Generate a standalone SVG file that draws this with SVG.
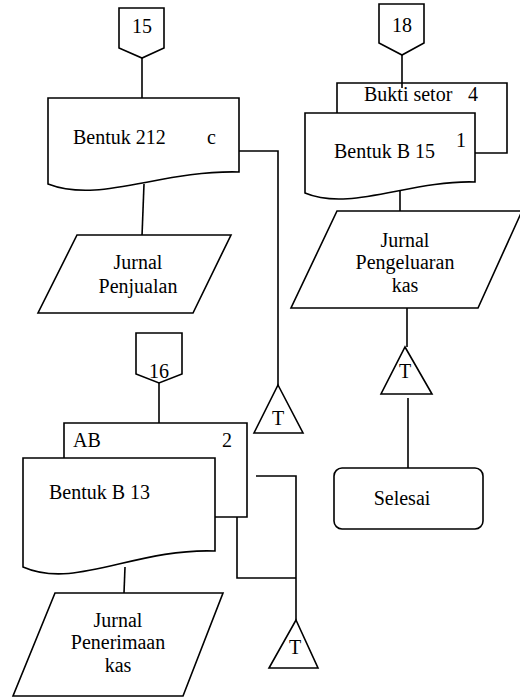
<svg xmlns="http://www.w3.org/2000/svg" width="520" height="698" viewBox="0 0 520 698">
<style>
.s{fill:#fff;stroke:#000;stroke-width:1.6;stroke-linejoin:miter}
.o{fill:none;stroke:#000;stroke-width:1.6}
text{font-family:"Liberation Serif","Times New Roman",serif;font-size:20px;fill:#000}
.m{text-anchor:middle}
</style>
<rect width="520" height="698" fill="#fff"/>
<g id="connectors" class="o">
<path d="M142,58 V98"/>
<path d="M239,151 H278 V385"/>
<path d="M144,184 L142,236"/>
<path d="M159,383 V423"/>
<path d="M237,517 V578 H296"/>
<path d="M256,476 H296 V620"/>
<path d="M125,567 L124,593"/>
<path d="M402,55 V88"/>
<path d="M400,188 V211"/>
<path d="M407,308 V347"/>
<path d="M408,398 V468"/>
</g>
<g id="off15"><path class="s" d="M119,8 H164 V48 L142,58 L119,48 Z"/><text class="m" x="142" y="33">15</text></g>
<g id="doc212"><path class="s" d="M48,98 H239 V172 C160,170 100,204 48,184 Z"/><text x="73" y="144">Bentuk 212</text><text x="207" y="144">c</text></g>
<g id="jpenjualan"><path class="s" d="M77,235 H231 L193,313 H38 Z"/><text class="m" x="138" y="269">Jurnal</text><text class="m" x="138" y="293">Penjualan</text></g>
<g id="t1"><path class="s" d="M278,385 L303,433 H254 Z"/><text class="m" x="278" y="425">T</text></g>
<g id="off16"><path class="s" d="M136,333 H182 V374 L159,383 L136,374 Z"/><text class="m" x="159" y="378">16</text></g>
<g id="docAB"><path class="o" d="M64,458 V423 H247 V517 H215"/><text x="73" y="447">AB</text><text x="222" y="447">2</text></g>
<g id="docB13"><path class="s" d="M23,458 H215 V551 C135,548 75,590 23,567 Z"/><text x="49" y="499">Bentuk B 13</text></g>
<g id="jpenerimaan"><path class="s" d="M55,593 H223 L183,696 H13 Z"/><text class="m" x="118" y="627">Jurnal</text><text class="m" x="118" y="649">Penerimaan</text><text class="m" x="118" y="672">kas</text></g>
<g id="t3"><path class="s" d="M296,620 L318,668 H269 Z"/><text class="m" x="295" y="654">T</text></g>
<g id="off18"><path class="s" d="M379,4 H424 V43 L402,55 L379,43 Z"/><text class="m" x="402" y="32">18</text></g>
<g id="docBukti"><path class="o" d="M337,113 V83 H507 V153 H475"/><text x="364" y="101">Bukti setor</text><text x="468" y="101">4</text></g>
<g id="docB15"><path class="s" d="M305,113 H475 V182 C410,180 350,212 305,193 Z"/><text x="334" y="158">Bentuk B 15</text><text x="456" y="147">1</text></g>
<g id="jpengeluaran"><path class="s" d="M337,211 H522 L478,308 H291 Z"/><text class="m" x="405" y="247">Jurnal</text><text class="m" x="405" y="269">Pengeluaran</text><text class="m" x="405" y="292">kas</text></g>
<g id="t2"><path class="s" d="M405,347 L432,394 H381 Z"/><text class="m" x="405" y="378">T</text></g>
<g id="selesai"><rect class="s" x="334" y="468" width="149" height="61" rx="8"/><text class="m" x="402" y="505">Selesai</text></g>
</svg>
